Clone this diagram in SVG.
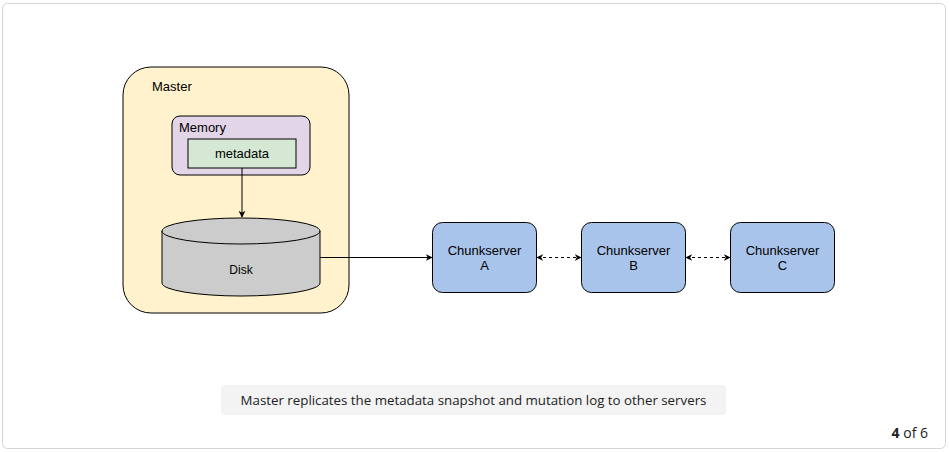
<svg xmlns="http://www.w3.org/2000/svg" width="949" height="452" viewBox="0 0 949 452">
<style>
.lbl{font-family:"Liberation Sans",Arial,sans-serif;font-size:13px;fill:#000}
.cs{fill:#a9c4eb;stroke:#000;stroke-width:1}
.edge{fill:none;stroke:#000;stroke-width:1}
.dash{stroke-dasharray:3 3}
</style>
<defs>
<marker id="ah" viewBox="0 0 10 10" refX="9" refY="5" markerWidth="7" markerHeight="7" orient="auto-start-reverse" markerUnits="userSpaceOnUse">
<path d="M0,0 L10,5 L0,10 L3,5 Z" fill="#000"/>
</marker>
</defs>
<rect x="0" y="0" width="949" height="452" fill="#fff"/>
<rect x="2.5" y="3.5" width="943" height="445" rx="5" fill="#fff" stroke="#d4d4d4"/>
<g id="master">
<rect x="123" y="67" width="226" height="246" rx="28" fill="#fff2cc" stroke="#000"/>
<text class="lbl" x="152" y="91">Master</text>
</g>
<g id="memory">
<rect x="172" y="116" width="138" height="59" rx="8" fill="#e1d5e7" stroke="#000"/>
<text class="lbl" x="179" y="132">Memory</text>
</g>
<g id="metadata">
<rect x="188" y="139" width="108" height="29" fill="#d5e8d4" stroke="#000"/>
<text class="lbl" x="242" y="158" text-anchor="middle">metadata</text>
</g>
<g id="disk">
<path d="M162,231 A79,13 0 0 1 320,231 L320,283 A79,13 0 0 1 162,283 Z" fill="#cccccc" stroke="#000"/>
<path d="M162,231 A79,13 0 0 0 320,231" fill="none" stroke="#000"/>
<text class="lbl" x="241" y="274" text-anchor="middle" style="font-size:12px">Disk</text>
</g>
<g id="chunkA">
<rect class="cs" x="432.5" y="222.5" width="104" height="70" rx="10"/>
<text class="lbl" x="484.5" y="255" text-anchor="middle">Chunkserver</text>
<text class="lbl" x="484.5" y="270" text-anchor="middle">A</text>
</g>
<g id="chunkB">
<rect class="cs" x="581.5" y="222.5" width="104" height="70" rx="10"/>
<text class="lbl" x="633.5" y="255" text-anchor="middle">Chunkserver</text>
<text class="lbl" x="633.5" y="270" text-anchor="middle">B</text>
</g>
<g id="chunkC">
<rect class="cs" x="730.5" y="222.5" width="104" height="70" rx="10"/>
<text class="lbl" x="782.5" y="255" text-anchor="middle">Chunkserver</text>
<text class="lbl" x="782.5" y="270" text-anchor="middle">C</text>
</g>
<g id="connectors">
<line class="edge" x1="242" y1="168" x2="242" y2="217" marker-end="url(#ah)"/>
<line class="edge" x1="320" y1="257.5" x2="432" y2="257.5" marker-end="url(#ah)"/>
<line class="edge dash" x1="537" y1="257.5" x2="581" y2="257.5" marker-start="url(#ah)" marker-end="url(#ah)"/>
<line class="edge dash" x1="686" y1="257.5" x2="730" y2="257.5" marker-start="url(#ah)" marker-end="url(#ah)"/>
</g>
<g id="caption">
<rect x="221" y="385" width="505" height="30" rx="4" fill="#f3f3f3"/>
<text x="473.5" y="405" text-anchor="middle" font-family="Open Sans, sans-serif" font-size="13.3" fill="#222">Master replicates the metadata snapshot and mutation log to other servers</text>
</g>
<g id="pager">
<text x="928" y="438" text-anchor="end" font-family="Open Sans, sans-serif" font-size="14" fill="#222"><tspan font-weight="bold">4</tspan> of 6</text>
</g>
</svg>
